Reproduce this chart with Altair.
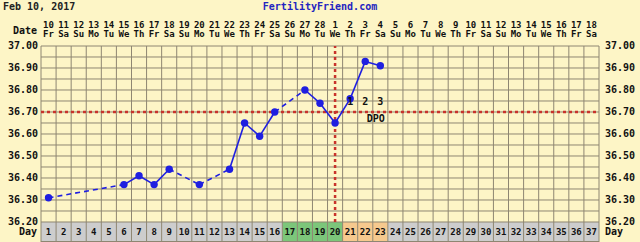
import altair as alt
import pandas as pd
import numpy as np

# ---- data ----
chart_days = list(range(1, 38))
date_nums = ["10", "11", "12", "13", "14", "15", "16", "17", "18", "19", "20", "21", "22",
             "23", "24", "25", "26", "27", "28", "1", "2", "3", "4", "5", "6", "7", "8",
             "9", "10", "11", "12", "13", "14", "15", "16", "17", "18"]
weekdays = ["Fr", "Sa", "Su", "Mo", "Tu", "We", "Th"] * 5 + ["Fr", "Sa"]
temp_days = [1, 6, 7, 8, 9, 11, 13, 14, 15, 16, 18, 19, 20, 21, 22, 23]
temps = [36.31, 36.37, 36.41, 36.37, 36.44, 36.37, 36.44, 36.65, 36.59, 36.70,
         36.80, 36.74, 36.65, 36.76, 36.93, 36.91]
fertile_days = [17, 18, 19, 20]
luteal_days = [21, 22, 23]
ovulation_day = 20
coverline = 36.70
dpo_days = [21, 22, 23]
dpo_labels = ["1", "2", "3"]
tick_values = [37.00, 36.90, 36.80, 36.70, 36.60, 36.50, 36.40, 36.30, 36.20]

FONT = "DejaVu Sans Mono"
CREAM = "#FDF5C6"
GRID = "#8E8672"
BLUE = "#1F1FE0"
RED = "#C8332B"
SMALL = 9

YMIN, YMAX = 36.10909, 37.0
TMIN = 36.20
XMIN, XMAX = 0.5, 37.5

xs = alt.Scale(domain=[XMIN, XMAX], nice=False, zero=False)
ys = alt.Scale(domain=[YMIN, YMAX], nice=False, zero=False)


def X(f="x"):
    return alt.X(f, type="quantitative", scale=xs, axis=None)


def Y(f="y"):
    return alt.Y(f, type="quantitative", scale=ys, axis=None)


# ---- day row cells ----
def cell_color(d):
    if d in fertile_days:
        return "#7CC67A"
    if d in luteal_days:
        return "#F6C98E"
    return "#CDCDCD"


cells = pd.DataFrame({
    "x": [d - 0.5 for d in chart_days],
    "x2": [d + 0.5 for d in chart_days],
    "y": YMIN, "y2": TMIN,
    "c": [cell_color(d) for d in chart_days],
    "d": chart_days,
    "ym": (YMIN + TMIN) / 2,
})
cell_layer = alt.Chart(cells).mark_rect().encode(
    x=X(), x2="x2", y=Y(), y2="y2", color=alt.Color("c:N", scale=None))
day_text = alt.Chart(cells).mark_text(font=FONT, fontSize=SMALL, fontWeight="bold",
                                      color="#111", baseline="middle").encode(
    x=X("d"), y=Y("ym"), text="d:N")

# ---- grid ----
vgrid = pd.DataFrame({"x": np.arange(XMIN, XMAX + 0.01, 1.0), "y": YMIN, "y2": YMAX})
hgrid = pd.DataFrame({"y": np.round(np.arange(TMIN, YMAX + 0.001, 0.05), 2),
                      "x": XMIN, "x2": XMAX})
vg = alt.Chart(vgrid).mark_rule(color=GRID, strokeWidth=1).encode(x=X(), y=Y(), y2="y2")
hg = alt.Chart(hgrid).mark_rule(color=GRID, strokeWidth=1).encode(y=Y(), x=X(), x2="x2")
bottom = alt.Chart(pd.DataFrame({"y": [YMIN], "x": [XMIN], "x2": [XMAX]})).mark_rule(
    color=GRID, strokeWidth=2).encode(y=Y(), x=X(), x2="x2")

# ---- coverline & ovulation ----
cov = alt.Chart(pd.DataFrame({"y": [coverline], "x": [XMIN], "x2": [XMAX]})).mark_rule(
    color=RED, strokeWidth=2.5, strokeDash=[3, 3]).encode(y=Y(), x=X(), x2="x2")
ov = alt.Chart(pd.DataFrame({"x": [ovulation_day], "y": [TMIN], "y2": [YMAX]})).mark_rule(
    color=RED, strokeWidth=2.5, strokeDash=[3, 3]).encode(x=X(), y=Y(), y2="y2")

# ---- temperature line ----
seg = pd.DataFrame({
    "x": temp_days[:-1], "x2": temp_days[1:],
    "y": temps[:-1], "y2": temps[1:],
})
seg["gap"] = (seg["x2"] - seg["x"]) > 1
solid = alt.Chart(seg).transform_filter("!datum.gap").mark_rule(
    color=BLUE, strokeWidth=1.6).encode(x=X(), x2="x2", y=Y(), y2="y2")
dashed = alt.Chart(seg).transform_filter("datum.gap").mark_rule(
    color=BLUE, strokeWidth=1.6, strokeDash=[5, 4]).encode(x=X(), x2="x2", y=Y(), y2="y2")
pts = alt.Chart(pd.DataFrame({"x": temp_days, "y": temps})).mark_point(
    filled=True, size=55, color=BLUE, opacity=1).encode(x=X(), y=Y())

# ---- DPO labels ----
dpo = alt.Chart(pd.DataFrame({"x": dpo_days, "y": coverline + 0.045, "t": dpo_labels})).mark_text(
    font=FONT, fontSize=10, fontWeight="bold", color="#111", baseline="middle").encode(
    x=X(), y=Y(), text="t:N")
dpo_word = alt.Chart(pd.DataFrame({"x": [22.7], "y": [coverline - 0.03], "t": ["DPO"]})).mark_text(
    font=FONT, fontSize=10, fontWeight="bold", color="#111", baseline="middle").encode(
    x=X(), y=Y(), text="t:N")

# ---- header dates ----
hdr = pd.DataFrame({"x": chart_days, "n": date_nums, "w": weekdays,
                    "yn": 37.0955, "yw": 37.0545})
hdr_n = alt.Chart(hdr).mark_text(font=FONT, fontSize=SMALL, fontWeight="bold", color="#111",
                                 baseline="middle").encode(x=X(), y=Y("yn"), text="n:N")
hdr_w = alt.Chart(hdr).mark_text(font=FONT, fontSize=SMALL, fontWeight="bold", color="#111",
                                 baseline="middle").encode(x=X(), y=Y("yw"), text="w:N")

# ---- y labels both sides ----
yl = pd.DataFrame({"y": tick_values, "t": [f"{v:.2f}" for v in tick_values],
                   "xl": XMIN, "xr": XMAX})
yleft = alt.Chart(yl).mark_text(font=FONT, fontSize=10, fontWeight="bold", color="#111",
                                align="right", baseline="middle", dx=-3).encode(
    x=X("xl"), y=Y(), text="t:N")
yright = alt.Chart(yl).mark_text(font=FONT, fontSize=10, fontWeight="bold", color="#111",
                                 align="left", baseline="middle", dx=6).encode(
    x=X("xr"), y=Y(), text="t:N")

side = pd.DataFrame({"x": [XMIN, XMIN, XMAX], "y": [37.068, (YMIN + TMIN) / 2, (YMIN + TMIN) / 2],
                     "t": ["Date", "Day", "Day"], "a": ["l", "l", "r"]})
side_l = alt.Chart(side).transform_filter("datum.a == 'l'").mark_text(
    font=FONT, fontSize=10, fontWeight="bold", color="#111", align="right",
    baseline="middle", dx=-4).encode(x=X(), y=Y(), text="t:N")
side_r = alt.Chart(side).transform_filter("datum.a == 'r'").mark_text(
    font=FONT, fontSize=10, fontWeight="bold", color="#111", align="left",
    baseline="middle", dx=6).encode(x=X(), y=Y(), text="t:N")

# ---- titles ----
title_l = alt.Chart(pd.DataFrame({"t": ["Feb 10, 2017"]})).mark_text(
    font=FONT, fontSize=10, fontWeight="bold", color="#222", align="left",
    baseline="middle").encode(x=alt.value(-38), y=alt.value(-39), text="t:N")
title_c = alt.Chart(pd.DataFrame({"t": ["FertilityFriend.com"]})).mark_text(
    font=FONT, fontSize=10, fontWeight="bold", color="#2424C0", align="center",
    baseline="middle").encode(x=alt.value(279), y=alt.value(-39), text="t:N")

chart = alt.layer(
    cell_layer, vg, hg, bottom, cov, ov, dashed, solid, pts,
    day_text, dpo, dpo_word, hdr_n, hdr_w, yleft, yright, side_l, side_r, title_l, title_c
).properties(
    width=558, height=196,
    autosize=alt.AutoSizeParams(type="none"),
    padding={"left": 41, "top": 46, "right": 41, "bottom": 0},
).configure(background=CREAM).configure_view(stroke=None, fill=CREAM)

chart.save("out.html", embed_options={"renderer": "svg", "actions": False})
